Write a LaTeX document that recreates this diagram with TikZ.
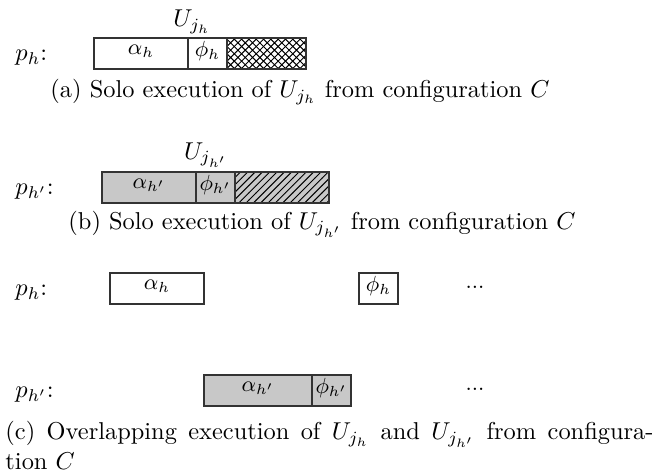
\documentclass[tikz,border=0pt]{standalone}
\usetikzlibrary{patterns}
\definecolor{boxgray}{RGB}{200,200,200}
\begin{document}
\begin{tikzpicture}[x=0.41pt,y=-0.41pt,
  seg/.style={draw=black!80,line width=0.5pt},
  rowlbl/.style={inner sep=0pt,anchor=west},
  captxt/.style={inner sep=0pt,anchor=west}]
\useasboundingbox (0,0) rectangle (664,471);
% (a)
\node[inner sep=0pt] (ua) at (192,22) {$U_{j_h}$};
\node[rowlbl] (pa) at (15,58) {$p_h$:};
\path[seg] (94,38) rectangle (188,69) node[midway,yshift=1pt] (aa) {\small$\alpha_h$};
\path[seg] (188,38) rectangle (227,69) node[midway,yshift=1pt] (fa) {\small$\phi_h$};
\path[seg,pattern=crosshatch] (227,38) rectangle (306,69);
\node[captxt] (capa) at (50,92) {(a) Solo execution of $U_{j_h}$ from configuration $C$};
% (b)
\node[inner sep=0pt] (ub) at (206,155) {$U_{j_{h'}}$};
\node[rowlbl] (pb) at (15,192) {$p_{h'}$:};
\path[seg,fill=boxgray] (102,172) rectangle (196,203) node[midway,yshift=1pt] (ab) {\small$\alpha_{h'}$};
\path[seg,fill=boxgray] (196,172) rectangle (235,203) node[midway,yshift=1pt] (fb) {\small$\phi_{h'}$};
\path[seg,fill=boxgray] (235,172) rectangle (329,203);
\path[seg,pattern=north east lines] (235,172) rectangle (329,203);
\node[captxt] (capb) at (68,224) {(b) Solo execution of $U_{j_{h'}}$ from configuration $C$};
% (c)
\node[rowlbl] (pc1) at (15,293) {$p_h$:};
\path[seg] (110,273) rectangle (204,304) node[midway,yshift=1pt] (ac) {\small$\alpha_h$};
\path[seg] (359,273) rectangle (398,304) node[midway,yshift=1pt] (fc) {\small$\phi_h$};
\node[inner sep=0pt] (d1) at (475,287) {\small...};
\node[rowlbl] (pc2) at (15,395) {$p_{h'}$:};
\path[seg,fill=boxgray] (204,375) rectangle (312,406) node[midway,yshift=1pt] (ac2) {\small$\alpha_{h'}$};
\path[seg,fill=boxgray] (312,375) rectangle (351,406) node[midway,yshift=1pt] (fc2) {\small$\phi_{h'}$};
\node[inner sep=0pt] (d2) at (475,389) {\small...};
\node[inner sep=0pt,anchor=north west,text width=648*0.41pt,align=justify] (capc) at (5,421)
  {(c) Overlapping execution of $U_{j_h}$ and $U_{j_{h'}}$ from configura-\linebreak tion $C$};
\end{tikzpicture}
\end{document}
